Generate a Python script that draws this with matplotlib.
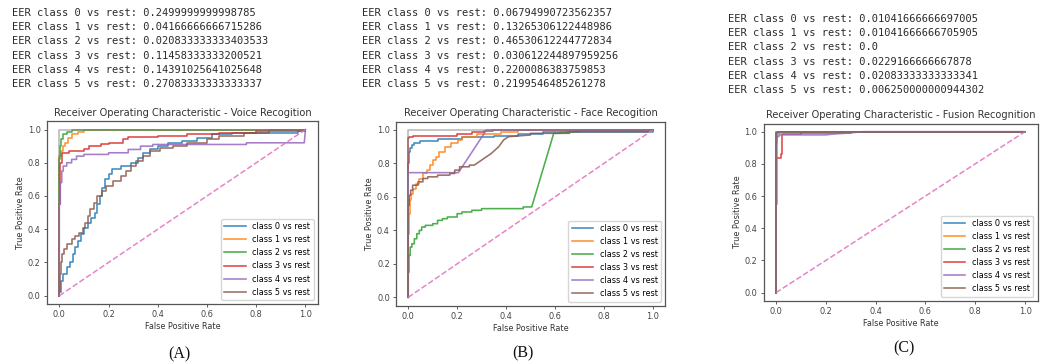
import matplotlib
matplotlib.use("Agg")
import matplotlib.pyplot as plt

# EER values printed above each ROC plot
voice_eer = ["0.2499999999998785", "0.04166666666715286", "0.020833333333403533",
             "0.11458333333200521", "0.14391025641025648", "0.27083333333333337"]
face_eer = ["0.06794990723562357", "0.13265306122448986", "0.46530612244772834",
            "0.030612244897959256", "0.2200086383759853", "0.2199546485261278"]
fusion_eer = ["0.01041666666697005", "0.01041666666705905", "0.0",
              "0.0229166666667878", "0.02083333333333341", "0.006250000000944302"]

class_labels = ["class 0 vs rest", "class 1 vs rest", "class 2 vs rest",
                "class 3 vs rest", "class 4 vs rest", "class 5 vs rest"]

# ROC curves (fpr / tpr per class)
voice_fpr = [
    [0, 0, .008, .008, .016, .016, .03, .03, .045, .045, .055, .055, .065, .065, .075, .075, .09, .09, .1, .1,
     .115, .115, .13, .13, .145, .145, .155, .155, .165, .165, .175, .175, .185, .185, .2, .2, .215, .215,
     .25, .25, .29, .29, .32, .32, .34, .34, .37, .37, .4, .4, .44, .44, .5, .5, .56, .56, .62, .62,
     .7, .7, .97, .97, 1, 1],
    [0, 0, .008, .008, .016, .016, .025, .025, .035, .035, .05, .05, .075, .075, .1, .1, .125, .125, 1],
    [0, 0, .004, .004, .008, .008, .016, .016, .03, .03, .05, .05, .085, .085, 1],
    [0, 0, .004, .004, .01, .01, .04, .04, .1, .1, .12, .12, .17, .17, .2, .2, .26, .26, .28, .28,
     .4, .4, .52, .52, .65, .65, .8, .8, 1, 1],
    [0, 0, .004, .004, .01, .01, .016, .016, .03, .03, .05, .05, .07, .07, .1, .1, .2, .2, .28, .28,
     .33, .33, .38, .38, .76, .76, .995, 1],
    [0, 0, .004, .004, .008, .008, .012, .012, .02, .02, .03, .03, .05, .05, .065, .065, .08, .08, .095, .095,
     .105, .105, .115, .115, .125, .125, .14, .14, .155, .155, .175, .175, .19, .19, .22, .22, .25, .25,
     .27, .27, .29, .29, .31, .31, .34, .34, .37, .37, .41, .41, .46, .46, .52, .52, .6, .6, .65, .65,
     .75, .75, .85, .85, 1],
]
voice_tpr = [
    [0, .02, .02, .09, .09, .13, .13, .17, .17, .2, .2, .25, .25, .29, .29, .33, .33, .37, .37, .41,
     .41, .44, .44, .47, .47, .5, .5, .55, .55, .6, .6, .65, .65, .7, .7, .73, .73, .76,
     .76, .78, .78, .8, .8, .83, .83, .86, .86, .88, .88, .9, .9, .92, .92, .93, .93, .95, .95, .97,
     .97, .98, .98, .99, .99, 1],
    [0, .84, .84, .87, .87, .9, .9, .92, .92, .95, .95, .97, .97, .985, .985, .995, .995, 1, 1],
    [0, .82, .82, .9, .9, .94, .94, .97, .97, .985, .985, .995, .995, 1, 1],
    [0, .55, .55, .8, .8, .86, .86, .87, .87, .88, .88, .9, .9, .91, .91, .92, .92, .94, .94, .955,
     .955, .96, .96, .97, .97, .98, .98, .99, .99, 1],
    [0, .55, .55, .68, .68, .75, .75, .78, .78, .8, .8, .82, .82, .84, .84, .85, .85, .86, .86, .88,
     .88, .9, .9, .91, .91, .92, .92, 1],
    [0, .03, .03, .13, .13, .2, .2, .25, .25, .28, .28, .31, .31, .34, .34, .36, .36, .38, .38, .41,
     .41, .44, .44, .48, .48, .52, .52, .56, .56, .6, .6, .63, .63, .66, .66, .69, .69, .72,
     .72, .75, .75, .78, .78, .81, .81, .84, .84, .87, .87, .89, .89, .9, .9, .92, .92, .94, .94, .96,
     .96, .98, .98, 1, 1],
]

face_fpr = [
    [0, 0, .002, .002, .008, .008, .015, .015, .025, .025, .05, .05, .12, .12, .22, .22, .35, .35,
     .45, .45, .55, .55, .98, .98, 1, 1],
    [0, 0, .003, .003, .006, .006, .012, .012, .02, .02, .03, .03, .045, .045, .06, .06, .075, .075,
     .09, .09, .1, .1, .115, .115, .125, .125, .15, .15, .175, .175, .205, .205, .22, .22, .28, .28,
     .38, .38, .45, .45, 1],
    [0, 0, .003, .003, .008, .008, .015, .015, .025, .025, .035, .035, .045, .045, .055, .055, .07, .07,
     .1, .1, .12, .12, .14, .14, .16, .16, .2, .2, .22, .22, .26, .26, .3, .3, .47, .47, .505, .595,
     .62, .62, .65, .65, .7, .7, 1],
    [0, 0, .005, .005, .02, .02, .2, .2, .26, .26, .31, .31, .345, .345, 1],
    [0, 0, .205, .32, 1],
    [0, 0, .004, .004, .01, .01, .018, .018, .04, .04, .06, .06, .08, .08, .12, .12, .17, .17,
     .19, .19, .21, .21, .25, .25, .27, .3, .34, .37, .39, .41, .5, .5, .66, .66, .98, 1],
]
face_tpr = [
    [0, .8, .8, .87, .87, .89, .89, .91, .91, .925, .925, .935, .935, .945, .945, .955, .955, .965,
     .965, .975, .975, .985, .985, .99, .99, 1],
    [0, .38, .38, .5, .5, .58, .58, .62, .62, .65, .65, .68, .68, .71, .71, .74, .74, .76,
     .76, .79, .79, .82, .82, .84, .84, .87, .87, .9, .9, .92, .92, .94, .94, .96, .96, .975,
     .975, .985, .985, 1, 1],
    [0, .15, .15, .25, .25, .3, .3, .32, .32, .35, .35, .38, .38, .4, .4, .42, .42, .43,
     .43, .44, .44, .46, .46, .47, .47, .48, .48, .5, .5, .51, .51, .52, .52, .53, .53, .54, .54, .98,
     .98, .985, .985, .99, .99, 1, 1],
    [0, .95, .95, .96, .96, .965, .965, .975, .975, .985, .985, .995, .995, 1, 1],
    [0, .745, .745, 1, 1],
    [0, .55, .55, .61, .61, .64, .64, .67, .67, .69, .69, .71, .71, .72, .72, .73, .73, .74,
     .74, .76, .76, .78, .78, .79, .79, .82, .86, .9, .94, .96, .97, .98, .98, .99, .99, 1],
]

fusion_fpr = [
    [0, 0, .005, .005, .015, .015, 1],
    [0, 0, .006, .006, .012, .012, 1],
    [0, 0, 1],
    [0, 0, .02, .02, .025, .025, .1, .1, .3, .3, 1],
    [0, 0, .004, .004, .012, .012, .2, .23, .28, .35, 1],
    [0, 0, .006, .006, 1],
]
fusion_tpr = [
    [0, .96, .96, .99, .99, 1, 1],
    [0, .93, .93, .99, .99, 1, 1],
    [0, 1, 1],
    [0, .835, .835, .86, .86, .985, .985, .99, .99, 1, 1],
    [0, .55, .55, .97, .97, .98, .98, .985, .99, 1, 1],
    [0, .99, .99, 1, 1],
]

colors = ["#1f77b4", "#ff7f0e", "#2ca02c", "#d62728", "#9467bd", "#8c564b"]

W, H = 1049, 364
fig = plt.figure(figsize=(W / 100, H / 100), dpi=100)

panels = [
    # axes box in pixels (left, top, right, bottom), text origin, caption
    dict(box=(47, 121.2, 317.8, 304), txt=(12.5, 13), cap=(179, 354), letter="(A)",
         title="Receiver Operating Characteristic - Voice Recogition",
         eer=voice_eer, fpr=voice_fpr, tpr=voice_tpr),
    dict(box=(396, 121.6, 665, 305.7), txt=(362.5, 13), cap=(523, 353), letter="(B)",
         title="Receiver Operating Characteristic - Face Recogition",
         eer=face_eer, fpr=face_fpr, tpr=face_tpr),
    dict(box=(763.5, 123.6, 1037.5, 300.7), txt=(727.5, 19), cap=(904, 348), letter="(C)",
         title="Receiver Operating Characteristic - Fusion Recognition",
         eer=fusion_eer, fpr=fusion_fpr, tpr=fusion_tpr),
]

fs = 5.9
for p in panels:
    l, t, r, b = p["box"]
    ax = fig.add_axes([l / W, 1 - b / H, (r - l) / W, (b - t) / H])
    for i in range(6):
        ax.plot(p["fpr"][i], p["tpr"][i], color=colors[i], lw=1.15, alpha=0.85,
                label=class_labels[i])
    ax.plot([0, 1], [0, 1], "--", color="#e377c2", lw=1.1, alpha=0.9)
    ax.plot([0, 0, 1], [0, 1, 1], color="#7f7f7f", lw=1.15, alpha=0.55)
    ax.set_title(p["title"], fontsize=fs * 1.2, color="#333333", pad=4)
    ax.set_xlabel("False Positive Rate", fontsize=fs, color="#333333", labelpad=2)
    ax.set_ylabel("True Positive Rate", fontsize=fs, color="#333333", labelpad=2)
    ax.set_xticks([0, .2, .4, .6, .8, 1.0])
    ax.set_yticks([0, .2, .4, .6, .8, 1.0])
    ax.tick_params(labelsize=fs, length=2.5, width=0.6, pad=2, colors="#444444")
    for s in ax.spines.values():
        s.set_color("#555555")
        s.set_linewidth(0.9)
    ax.legend(loc="lower right", fontsize=fs, handlelength=2.6)
    # EER printout above the plot
    x0, y0 = p["txt"]
    for i, v in enumerate(p["eer"]):
        fig.text(x0 / W, 1 - (y0 + i * 14.2) / H, f"EER class {i} vs rest: {v}",
                 family="DejaVu Sans Mono", fontsize=7.45, color="#2a2a2a", va="center")
    cx, cy = p["cap"]
    fig.text(cx / W, 1 - cy / H, p["letter"], family="Liberation Serif", fontsize=11.5,
             ha="center", va="center", color="#111111")

fig.savefig("out.png", dpi=100)
